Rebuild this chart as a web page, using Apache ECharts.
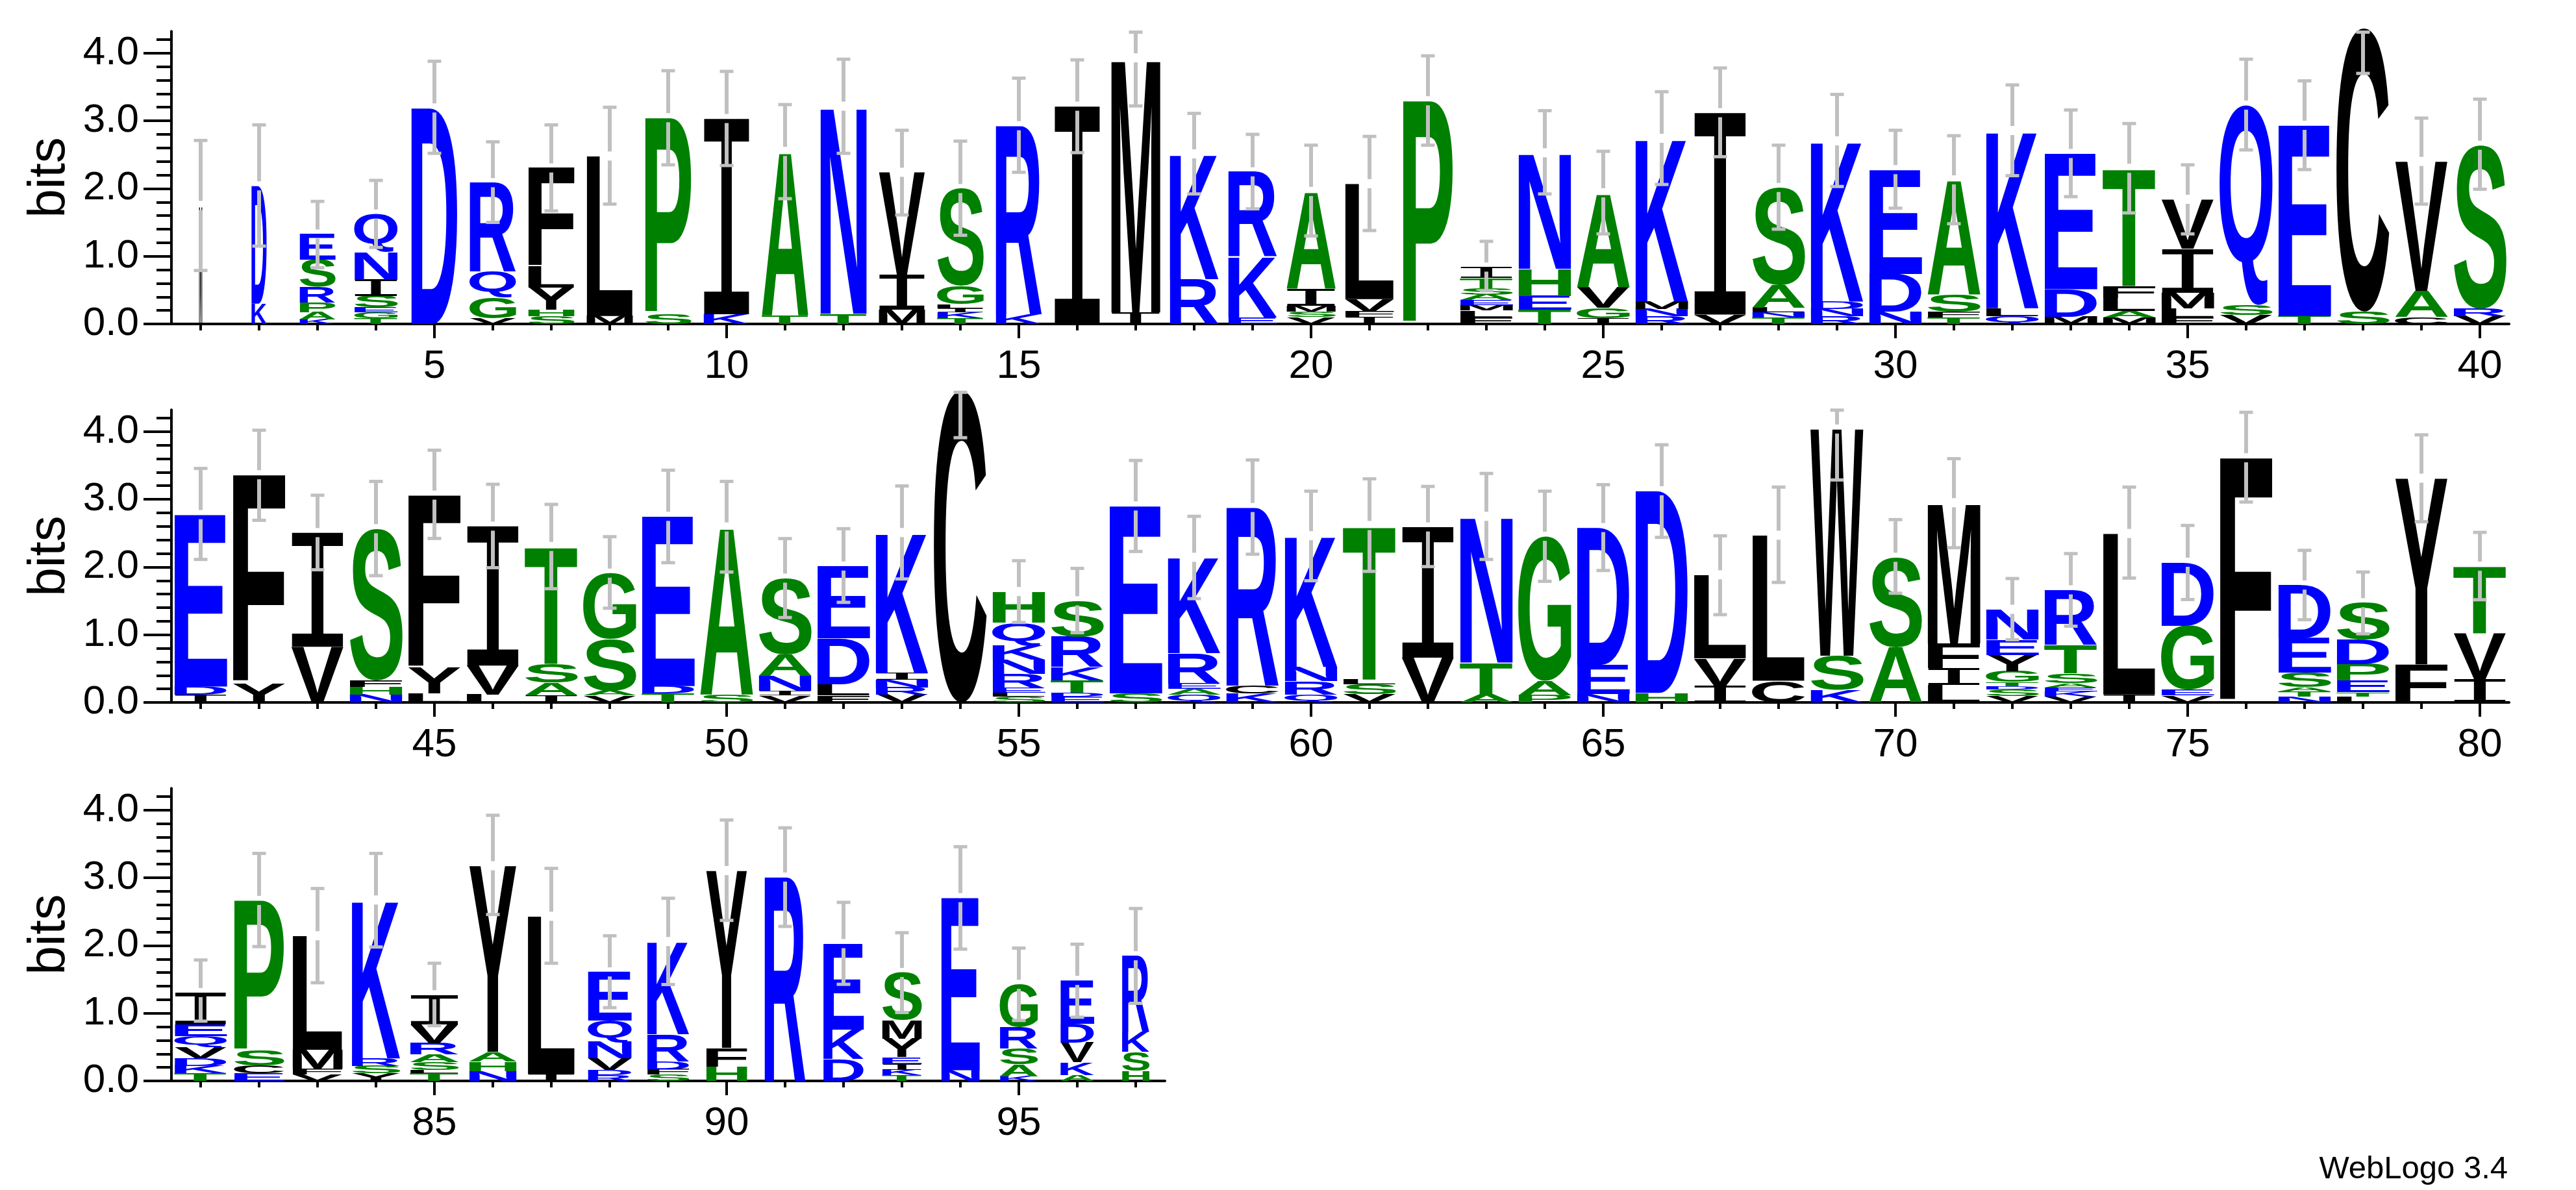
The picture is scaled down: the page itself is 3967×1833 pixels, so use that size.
<!DOCTYPE html>
<html>
<head>
<meta charset="utf-8">
<script src="https://cdn.jsdelivr.net/npm/echarts@6/dist/echarts.min.js"></script>
<style>
html,body{margin:0;padding:0;background:#ffffff;}
#chart{width:3967px;height:1833px;}
</style>
</head>
<body>
<div id="chart"></div>
<script>
// ---------------- DATA (read from the reference logo) ----------------
// letters of each stack, bottom -> top
const stackLetters = [
  "M","KD","KAPRSE","TGESINQ","D","VGQR","SHYLF","ML","SP","KI",
  "TA","TN","MIV","TKILGS","KR","I","IM","RK","EKR","VSMIA",
  "IFVL","P","FLMEASTI","TEHN","IGVA","RNMK","VI","TNLAS","RNDK","NDE",
  "TFSA","QLK","MDE","MALFT","FLMIV","VSQ","TE","SC","CAV","VRS",
  "IDE","YF","VI","NHFS","LYF","LVI","IAST","VASG","TDE","SA",
  "VINAS","FLDE","VRNIK","C","SLERNKQH","EDTKRS","SE","QAERK","KCR","QRNK",
  "VSLT","VI","ATN","PAG","NED","HD","IVL","CL","KSW","AS",
  "LIFM","VSDTGYEN","VKEASTR","IL","VEGD","F","NTASED","LTEPDS","FY","IVT",
  "TKDVQEI","ECSP","VFML","YSRK","TLSARVI","NHAY","IL","RDVNQE","SFDRK","HFY",
  "R","DKE","TKIEYMS","NE","KASRG","AKVDE","HSKR"
];
// bits of each letter, bottom -> top
const stackBits = [
  [1.75],[0.30,1.74],[0.07,0.105,0.144,0.234,0.397,0.378],[0.086,0.09,0.07,0.17,0.24,0.41,0.557],[3.19],
  [0.086,0.307,0.384,1.309],[0.112,0.096,0.326,0.314,1.456],[0.118,2.362],[0.15,2.896],[0.144,2.89],
  [0.128,2.42],[0.15,3.066],[0.214,0.512,1.514],[0.086,0.09,0.054,0.064,0.266,1.44],[0.144,2.784],
  [3.216],[0.17,3.76],[0.662,1.85],[0.1,0.893,1.254],[0.1,0.08,0.09,0.25,1.437],
  [0.1,0.08,0.186,1.706],[3.296],[0.1,0.1,0.08,0.07,0.08,0.1,0.15,0.16],[0.208,0.208,0.4,1.712],[0.086,0.154,0.31,1.386],
  [0.112,0.112,0.112,2.406],[0.138,2.982],[0.096,0.074,0.07,0.336,1.44],[0.112,0.112,0.106,2.374],[0.18,0.563,1.536],
  [0.096,0.086,0.256,1.69],[0.118,0.115,2.624],[0.106,0.406,2.006],[0.1,0.093,0.192,0.176,1.738],[0.093,0.138,0.234,0.65,0.726],
  [0.128,0.144,2.96],[0.118,2.816],[0.182,4.19],[0.106,0.384,1.91],[0.118,0.106,2.416],
  [0.118,0.118,2.538],[0.285,3.078],[0.822,1.686],[0.118,0.106,0.102,2.24],[0.134,0.374,2.554],
  [0.118,0.426,2.06],[0.109,0.186,0.275,1.734],[0.102,0.07,0.762,0.976],[0.134,0.109,2.506],[0.118,2.474],
  [0.102,0.07,0.218,0.32,1.126],[0.102,0.166,0.678,1.069],[0.118,0.106,0.109,0.102,2.074],[4.61],[0.083,0.064,0.067,0.208,0.208,0.208,0.339,0.461],
  [0.083,0.058,0.186,0.198,0.448,0.528],[0.134,2.768],[0.115,0.083,0.083,0.445,1.418],[0.134,0.115,2.63],[0.118,0.195,0.211,1.939],
  [0.118,0.15,0.07,2.275],[0.662,1.93],[0.125,0.464,2.16],[0.109,0.211,2.134],[0.122,0.432,2.029],
  [0.141,2.986],[0.243,0.41,1.232],[0.32,2.15],[0.182,0.509,3.347],[0.819,1.325],
  [0.262,0.24,0.368,2.08],[0.096,0.096,0.051,0.058,0.16,0.243,0.224,0.448],[0.09,0.07,0.06,0.067,0.141,0.422,0.813],[0.118,2.378],[0.102,0.09,0.941,0.938],
  [3.613],[0.086,0.074,0.064,0.214,0.512,0.784],[0.09,0.061,0.17,0.243,0.371,0.538],[0.563,2.749],[0.342,0.675,0.995],
  [0.115,0.109,0.115,0.16,0.166,0.173,0.467],[0.115,0.109,0.224,2.218],[0.096,0.083,0.282,1.683],[0.109,0.115,0.109,2.339],[0.115,0.051,0.109,0.115,0.166,0.282,0.435],
  [0.147,0.141,0.141,2.749],[0.106,2.326],[0.09,0.07,0.173,0.243,0.314,0.72],[0.096,0.08,0.115,0.397,1.37],[0.211,0.278,2.618],
  [3.011],[0.323,0.435,1.27],[0.083,0.08,0.086,0.102,0.275,0.275,0.701],[0.157,2.55],[0.07,0.173,0.234,0.32,0.63],
  [0.09,0.186,0.288,0.278,0.643],[0.147,0.282,0.294,1.126]
];
// relative stack width (fraction of sequences present at the column)
const stackWidth = [
  0.06,0.29,0.68,0.82,0.88,0.88,0.88,0.88,0.88,0.88,
  0.88,0.88,0.88,0.88,0.88,0.88,0.93,0.93,0.93,0.93,
  0.93,0.95,1,1,1,1,1,1,1,1,
  1,1,1,1,1,1,1,1,1,1,
  1,1,1,1,1,1,1,1,1,1,
  1,1,1,1,1,1,1,1,1,1,
  1,1,1,1,1,1,1,1,1,1,
  1,1,1,1,1,1,1,1,1,1,
  0.99,0.95,0.95,0.92,0.92,0.9,0.9,0.83,0.8,0.78,
  0.78,0.77,0.75,0.73,0.72,0.64,0.52
];
// error bar ends (bits)
const errLow = [
  0.79,1.15,0.83,1.13,2.52,1.50,1.67,1.77,2.35,2.34,
  1.85,2.52,1.61,1.31,2.24,2.53,3.22,1.92,1.70,1.30,
  1.38,2.64,0.49,1.92,1.33,2.06,2.47,1.40,2.03,1.71,
  1.48,2.19,1.88,1.64,1.33,2.57,2.28,3.70,1.77,1.99,
  2.112,2.69,1.96,1.872,2.422,1.99,1.68,1.392,2.064,1.926,
  1.254,1.478,1.824,3.91,1.181,1.03,2.23,1.533,2.189,1.798,
  1.936,2.006,2.112,1.789,1.949,2.438,1.296,1.773,3.286,1.613,
  2.285,0.925,1.126,1.837,1.52,2.96,1.222,1.014,2.669,1.517,
  0.883,1.984,1.45,1.978,0.816,2.458,1.738,1.082,1.424,2.371,
  2.282,1.427,1.011,1.946,0.893,0.941,1.146
];
const errHigh = [
  2.71,2.94,1.81,2.12,3.88,2.69,2.94,3.20,3.74,3.73,
  3.24,3.91,2.86,2.70,3.63,3.90,4.31,3.11,2.80,2.64,
  2.77,3.96,1.22,3.15,2.55,3.43,3.78,2.64,3.39,2.86,
  2.78,3.53,3.16,2.96,2.35,3.91,3.59,4.31,3.04,3.32,
  3.456,4.02,3.06,3.264,3.725,3.222,2.925,2.448,3.43,3.264,
  2.42,2.566,3.197,4.58,2.093,1.98,3.574,2.749,3.581,3.12,
  3.302,3.19,3.382,3.12,3.216,3.805,2.461,3.181,4.317,2.70,
  3.6,1.83,2.198,3.181,2.614,4.285,2.246,1.926,3.952,2.512,
  1.786,3.36,2.842,3.36,1.738,3.923,3.139,2.144,2.698,3.853,
  3.738,2.637,2.189,3.459,1.962,2.019,2.547
];
const rowRanges = [[1, 40], [41, 80], [81, 97]];
const xTickLabels = [[5,10,15,20,25,30,35,40],[45,50,55,60,65,70,75,80],[85,90,95]];
const yTickLabels = [0, 1, 2, 3, 4];
const yMinorTicks = [0,0.2,0.4,0.6,0.8,1,1.2,1.4,1.6,1.8,2,2.2,2.4,2.6,2.8,3,3.2,3.4,3.6,3.8,4,4.2];
const yMax = 4.3219;

// ---------------- LAYOUT / STYLE ----------------
const rowBase = [499, 1082, 1665];
const BIT_PX = 104.3, POS_PX = 90, LEFT = 264;
const FONT = '"Liberation Sans", Arial, Helvetica, sans-serif';
const BLUE = '#0000ff', GREEN = '#008000', BLACK = '#000000', GREY = '#c0c0c0';
function colorOf(ch) {
  if ('RKDENQ'.indexOf(ch) >= 0) return BLUE;
  if ('SGHTAP'.indexOf(ch) >= 0) return GREEN;
  return BLACK;
}

const mctx = document.createElement('canvas').getContext('2d');
const metricCache = {};
function metric(ch) {
  if (metricCache[ch]) return metricCache[ch];
  const font = ch === 'I' ? 'normal 100px "Liberation Mono"' : 'bold 100px "Liberation Sans"';
  mctx.font = font; mctx.textBaseline = 'middle'; mctx.textAlign = 'left';
  const t = mctx.measureText(ch);
  const m = {
    font: font,
    l: t.actualBoundingBoxLeft,
    a: t.actualBoundingBoxAscent,
    w: t.actualBoundingBoxLeft + t.actualBoundingBoxRight,
    h: t.actualBoundingBoxAscent + t.actualBoundingBoxDescent
  };
  metricCache[ch] = m;
  return m;
}

const grids = [], xAxes = [], yAxes = [], series = [];
rowRanges.forEach(function (rg, r) {
  const n = rg[1] - rg[0] + 1;
  const h = yMax * BIT_PX;
  const g = { left: LEFT, top: rowBase[r] - h, width: n * POS_PX, height: h, containLabel: false, outerBoundsMode: 'none' };
  grids.push(Object.assign({}, g), Object.assign({}, g));
  const positions = [];
  for (let p = rg[0]; p <= rg[1]; p++) positions.push(p);
  const gA = 2 * r, gB = 2 * r + 1;
  xAxes.push({
    type: 'value', gridIndex: gA, min: rg[0] - 0.5, max: rg[1] + 0.5, position: 'bottom',
    axisLine: { show: true, onZero: false, lineStyle: { color: BLACK, width: 4 } },
    axisTick: { show: true, customValues: positions, length: 10, lineStyle: { color: BLACK, width: 4 } },
    axisLabel: { show: false }, splitLine: { show: false }
  });
  xAxes.push({
    type: 'value', gridIndex: gB, min: rg[0] - 0.5, max: rg[1] + 0.5, position: 'bottom',
    axisLine: { show: false },
    axisTick: { show: true, customValues: xTickLabels[r], length: 22, lineStyle: { color: BLACK, width: 4 } },
    axisLabel: { show: true, customValues: xTickLabels[r], fontSize: 62, fontFamily: FONT, color: BLACK, margin: 35 },
    splitLine: { show: false }
  });
  yAxes.push({
    type: 'value', gridIndex: gA, min: 0, max: yMax, position: 'left',
    axisLine: { show: true, onZero: false, lineStyle: { color: BLACK, width: 4 } },
    axisTick: { show: true, customValues: yTickLabels, length: 43, lineStyle: { color: BLACK, width: 4 } },
    axisLabel: { show: true, customValues: yTickLabels, formatter: function (v) { return Number(v).toFixed(1); },
      fontSize: 62, fontFamily: FONT, color: BLACK, margin: 50 },
    splitLine: { show: false },
    name: 'bits', nameLocation: 'middle', nameGap: 147, nameRotate: 90, nameMoveOverlap: false,
    nameTextStyle: { fontSize: 80, fontFamily: FONT, color: BLACK }
  });
  yAxes.push({
    type: 'value', gridIndex: gB, min: 0, max: yMax, position: 'left',
    axisLine: { show: false },
    axisTick: { show: true, customValues: yMinorTicks, length: 23, lineStyle: { color: BLACK, width: 4 } },
    axisLabel: { show: false }, splitLine: { show: false }
  });

  const data = positions.map(function (p) { return [p, 0]; });
  series.push({
    type: 'custom', xAxisIndex: gA, yAxisIndex: gA, clip: false, silent: true,
    encode: { x: 0, y: 1 },
    data: data,
    renderItem: function (params, api) {
      const idx = rg[0] - 1 + params.dataIndex;
      const pos = api.value(0);
      const letters = stackLetters[idx];
      const bits = stackBits[idx];
      const halfW = 0.455 * stackWidth[idx];
      const children = [];
      let cum = 0;
      for (let i = 0; i < letters.length; i++) {
        const ch = letters[i];
        const y0 = cum, y1 = cum + bits[i];
        cum = y1;
        const p0 = api.coord([pos - halfW, y0]);
        const p1 = api.coord([pos + halfW, y1]);
        const w = p1[0] - p0[0], hh = p0[1] - p1[1];
        if (hh < 0.5 || w < 0.5) continue;
        const m = metric(ch);
        const sx = w / m.w, sy = hh / m.h;
        children.push({
          type: 'text', silent: true,
          x: p0[0] + m.l * sx, y: p1[1] + m.a * sy, scaleX: sx, scaleY: sy,
          style: { text: ch, font: m.font, fill: colorOf(ch), align: 'left', verticalAlign: 'middle',
                   textAlign: 'left', textVerticalAlign: 'middle' }
        });
      }
      const lo = api.coord([pos, errLow[idx]]);
      const hi = api.coord([pos, errHigh[idx]]);
      const c = api.coord([pos, cum]);
      const x = lo[0];
      const lineStyle = { stroke: GREY, lineWidth: 6 };
      const GAP = 7;
      if (c[1] > hi[1] + GAP && c[1] < lo[1] - GAP) {
        children.push({ type: 'line', silent: true, shape: { x1: x, y1: hi[1], x2: x, y2: c[1] - GAP }, style: lineStyle });
        children.push({ type: 'line', silent: true, shape: { x1: x, y1: c[1] + GAP, x2: x, y2: lo[1] }, style: lineStyle });
      } else {
        children.push({ type: 'line', silent: true, shape: { x1: x, y1: hi[1], x2: x, y2: lo[1] }, style: lineStyle });
      }
      children.push({ type: 'line', silent: true, shape: { x1: x - 10.5, y1: hi[1], x2: x + 10.5, y2: hi[1] }, style: { stroke: GREY, lineWidth: 5 } });
      children.push({ type: 'line', silent: true, shape: { x1: x - 10.5, y1: lo[1], x2: x + 10.5, y2: lo[1] }, style: { stroke: GREY, lineWidth: 5 } });
      return { type: 'group', children: children };
    }
  });
});

const chart = echarts.init(document.getElementById('chart'), null, { renderer: 'canvas', width: 3967, height: 1833 });
chart.setOption({
  backgroundColor: '#ffffff',
  animation: false,
  grid: grids,
  xAxis: xAxes,
  yAxis: yAxes,
  series: series,
  graphic: [{
    type: 'text', x: 3862, y: 1801, silent: true,
    style: { text: 'WebLogo 3.4', font: '49px "Liberation Sans"', fill: BLACK, align: 'right', verticalAlign: 'middle' }
  }]
});
</script>
</body>
</html>
